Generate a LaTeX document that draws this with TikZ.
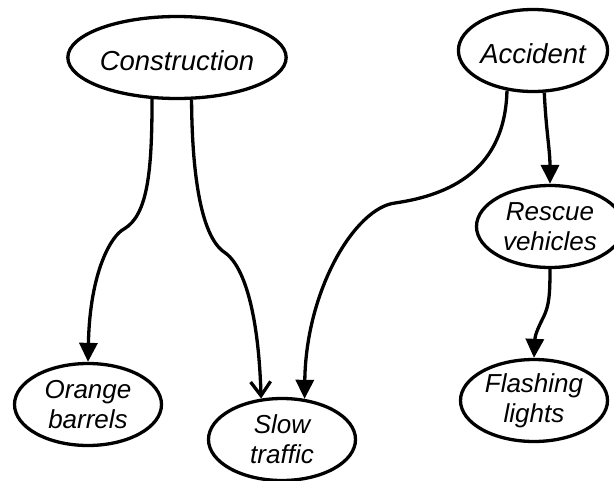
\documentclass[tikz,border=0pt]{standalone}
\usepackage{fontspec}
\setmainfont{Liberation Sans}
\usetikzlibrary{shapes.geometric,arrows.meta}
\begin{document}
\begin{tikzpicture}[x=1pt,y=-1pt,
  event/.style={ellipse,draw,line width=3.3pt,inner sep=0pt,
    minimum width=147pt,minimum height=82pt,align=center,
    font=\fontsize{26}{30}\selectfont\itshape},
  oneline/.style={font=\fontsize{27.5}{30}\selectfont\itshape,
    text height=26pt,text depth=0pt},
  cause/.style={line width=3.3pt,-{Triangle[length=19pt,width=18pt]}},
  opencause/.style={line width=3.3pt,-{Straight Barb[length=14pt,width=20pt]}}]
\useasboundingbox (0,0) rectangle (614,480);

% events
\node[event,oneline,minimum width=187pt] (con) at (177,57.5) {Construction};
\node[event,oneline] (acc) at (533,50.5) {Accident};
\node[event] (resc) at (550,226.5) {Rescue\\vehicles};
\node[event] (orange) at (88,404.5) {Orange\\barrels};
\node[event] (slow) at (282,439.5) {Slow\\traffic};
\node[event] (flash) at (534,400.5) {Flashing\\lights};

% causal links
\draw[cause] (con.239.5) .. controls (152,170) and (148,215) .. (124,229)
  .. controls (112,235) and (90,270) .. (orange.north);
\draw[opencause] (con.289.4) .. controls (192,170) and (200,235) .. (224,252)
  .. controls (240,262) and (258,300) .. (slow.117.4);
\draw[cause] (acc.237.8) .. controls (505,170) and (450,195) .. (395,203)
  .. controls (355,208) and (306,290) .. (slow.61.6);
\draw[cause] (acc.285.1) .. controls (546,130) and (550,150) .. (resc.north);
\draw[cause] (resc.south) .. controls (550,295) and (549,305) .. (544,316)
  .. controls (538,328) and (535,335) .. (flash.north);
\end{tikzpicture}
\end{document}
